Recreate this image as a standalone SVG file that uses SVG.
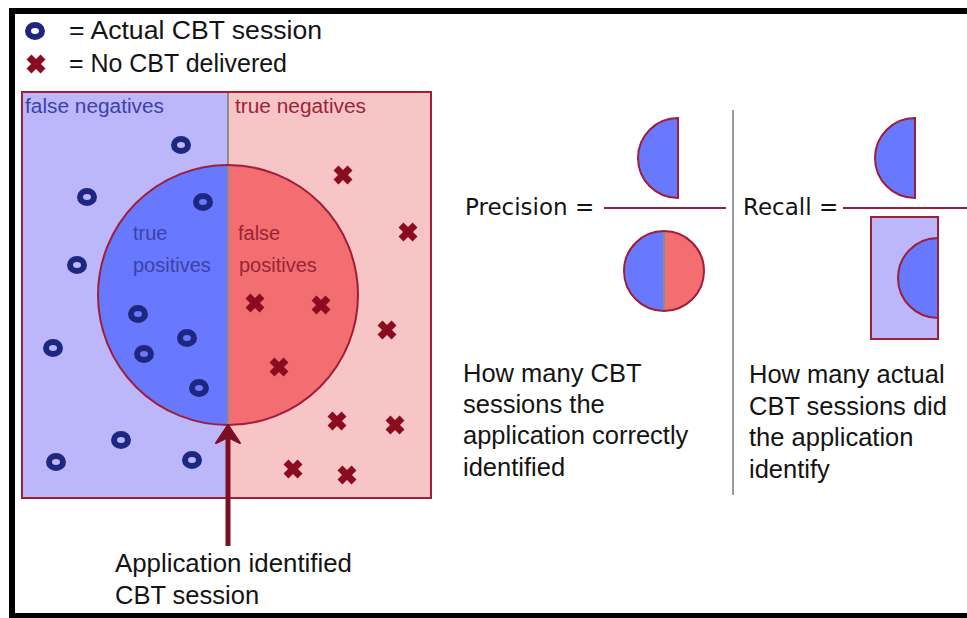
<svg xmlns="http://www.w3.org/2000/svg" width="967" height="618" viewBox="0 0 967 618">
  <defs>
    <style>
      .txt { font-family: "Liberation Sans", Arial, sans-serif; fill: #141414; }
      .big { font-size: 25.5px; }
      .eq { font-family: "DejaVu Sans", Verdana, sans-serif; font-size: 23px; fill: #141414; }
      .zone { font-family: "Liberation Sans", Arial, sans-serif; font-size: 20px; }
      .blueTxt { fill: #3c42a6; }
      .redTxt { fill: #9a2436; }
      .ring { fill: none; stroke: #1e2780; stroke-width: 6; }
      .cross { fill: none; stroke: #8a0c1e; stroke-width: 7; }
      .edge { stroke: #9e1f38; stroke-width: 2; }
      .lav { fill: #bcb6fb; }
      .pink { fill: #f8c5c7; }
      .blue { fill: #6879ff; }
      .red { fill: #f26e70; }
      .divider { stroke: #8c8c8c; stroke-width: 2; }
    </style>
    <ellipse id="o" rx="7" ry="6" class="ring"/>
    <path id="x" d="M-7,-7 L7,7 M7,-7 L-7,7" class="cross"/>
  </defs>

  <rect x="0" y="0" width="967" height="618" fill="#ffffff"/>
  <!-- outer frame -->
  <rect x="12" y="11" width="970" height="605" fill="none" stroke="#000" stroke-width="6"/>

  <!-- legend -->
  <g id="legend">
    <use href="#o" x="35" y="31"/>
    <text class="txt big" x="69" y="39" textLength="253" lengthAdjust="spacingAndGlyphs">=  Actual CBT session</text>
    <use href="#x" x="36" y="64"/>
    <text class="txt big" x="69" y="72" textLength="218" lengthAdjust="spacingAndGlyphs">= No CBT delivered</text>
  </g>

  <!-- sample space: actual CBT (left) / no CBT (right) -->
  <g id="population">
    <rect x="22" y="92" width="206" height="406" class="lav"/>
    <rect x="228" y="92" width="203" height="406" class="pink"/>
    <line x1="228" y1="92" x2="228" y2="165" class="divider"/>
    <rect x="22" y="92" width="409" height="406" fill="none" class="edge"/>
    <text class="zone blueTxt" x="25" y="113" textLength="139" lengthAdjust="spacingAndGlyphs">false negatives</text>
    <text class="zone redTxt" x="235" y="113" textLength="131" lengthAdjust="spacingAndGlyphs">true negatives</text>
  </g>

  <!-- sessions identified by the application -->
  <g id="identified">
    <path d="M228,165 A130,130 0 0 0 228,425 Z" class="blue"/>
    <path d="M228,165 A130,130 0 0 1 228,425 Z" class="red"/>
    <line x1="228" y1="165" x2="228" y2="425" class="divider"/>
    <circle cx="228" cy="295" r="130" fill="none" class="edge"/>
    <text class="zone blueTxt" x="133" y="240">true</text>
    <text class="zone blueTxt" x="133" y="272">positives</text>
    <text class="zone redTxt" x="238" y="240">false</text>
    <text class="zone redTxt" x="239" y="272">positives</text>
  </g>

  <!-- actual CBT sessions -->
  <g id="sessions">
    <use href="#o" x="181" y="145"/>
    <use href="#o" x="87" y="197"/>
    <use href="#o" x="203" y="202"/>
    <use href="#o" x="77" y="265"/>
    <use href="#o" x="138" y="314"/>
    <use href="#o" x="187" y="338"/>
    <use href="#o" x="144" y="354"/>
    <use href="#o" x="53" y="348"/>
    <use href="#o" x="199" y="388"/>
    <use href="#o" x="121" y="440"/>
    <use href="#o" x="56" y="462"/>
    <use href="#o" x="192" y="460"/>
  </g>

  <!-- no CBT delivered -->
  <g id="no-cbt">
    <use href="#x" x="343" y="175"/>
    <use href="#x" x="408" y="232"/>
    <use href="#x" x="255" y="303"/>
    <use href="#x" x="321" y="305"/>
    <use href="#x" x="387" y="330"/>
    <use href="#x" x="279" y="367"/>
    <use href="#x" x="337" y="421"/>
    <use href="#x" x="395" y="425"/>
    <use href="#x" x="293" y="469"/>
    <use href="#x" x="347" y="475"/>
  </g>

  <!-- pointer to the identified set -->
  <g id="connectors">
    <line x1="228" y1="437" x2="228" y2="546" stroke="#7c1022" stroke-width="5"/>
    <path d="M228,425 L240,443 L228,437 L216,443 Z" fill="#7c1022" stroke="#7c1022" stroke-width="2" stroke-linejoin="round"/>
  </g>

  <g id="pointer-label">
    <text class="txt big" x="115" y="572" textLength="237" lengthAdjust="spacingAndGlyphs">Application identified</text>
    <text class="txt big" x="115" y="604">CBT session</text>
  </g>

  <!-- precision -->
  <g id="precision">
    <text class="eq" x="465" y="215">Precision =</text>
    <line x1="604" y1="208" x2="726" y2="208" class="edge"/>
    <path d="M678,118 A40,40 0 0 0 678,198 Z" class="blue edge"/>
    <path d="M664,231 A40,40 0 0 0 664,311 Z" class="blue"/>
    <path d="M664,231 A40,40 0 0 1 664,311 Z" class="red"/>
    <line x1="664" y1="231" x2="664" y2="311" class="divider"/>
    <circle cx="664" cy="271" r="40" fill="none" class="edge"/>
    <text class="txt big" x="463" y="382">How many CBT</text>
    <text class="txt big" x="463" y="413">sessions the</text>
    <text class="txt big" x="463" y="444">application correctly</text>
    <text class="txt big" x="463" y="476">identified</text>
  </g>

  <line id="separator" x1="733" y1="110" x2="733" y2="495" stroke="#9a9a9a" stroke-width="2"/>

  <!-- recall -->
  <g id="recall">
    <text class="eq" x="743" y="215">Recall =</text>
    <line x1="843" y1="208" x2="967" y2="208" class="edge"/>
    <path d="M915,118 A40,40 0 0 0 915,198 Z" class="blue edge"/>
    <rect x="871" y="217" width="67" height="122" class="lav edge"/>
    <path d="M938,238 A40,40 0 0 0 938,318 Z" class="blue edge"/>
    <text class="txt big" x="749" y="383">How many actual</text>
    <text class="txt big" x="749" y="415">CBT sessions did</text>
    <text class="txt big" x="749" y="446">the application</text>
    <text class="txt big" x="749" y="478">identify</text>
  </g>
</svg>
